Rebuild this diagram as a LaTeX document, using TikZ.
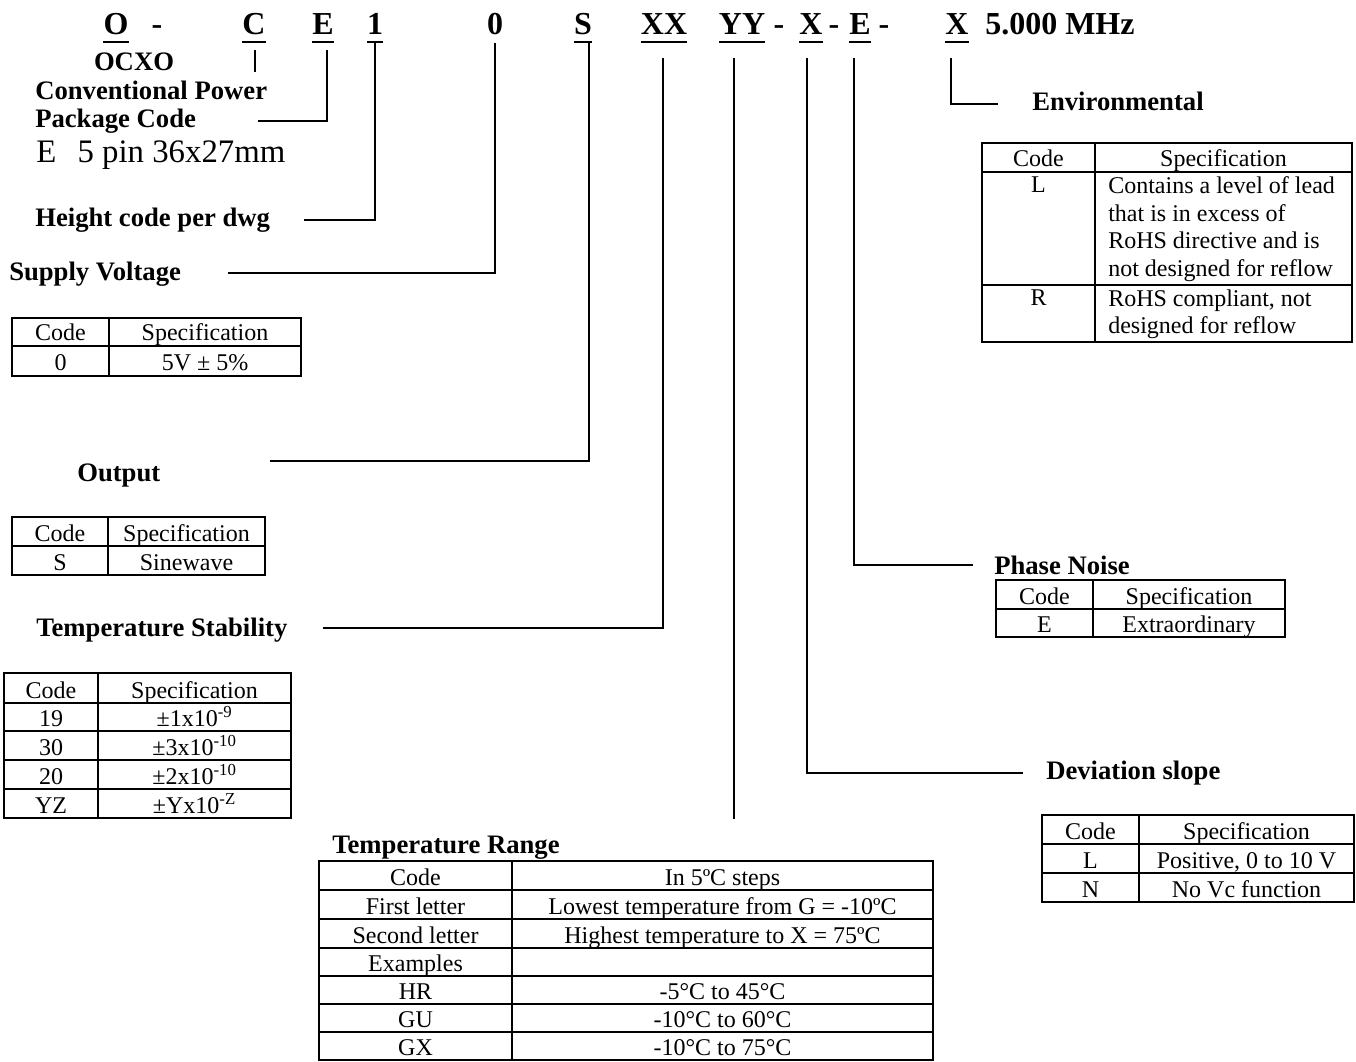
\documentclass[tikz,border=0pt]{standalone}
\usepackage{fontspec}
\setmainfont{Liberation Serif}
\usepackage{tikz}
\usetikzlibrary{calc}
\tikzset{
  pn code/.style={
    anchor=base,
    inner sep=0pt,
    font=\fontsize{24}{28}\selectfont\bfseries,
  },
  pn label/.style={
    anchor=west,
    inner sep=0pt,
    font=\fontsize{20}{24}\selectfont\bfseries,
  },
  pn cell/.style={
    anchor=base,
    inner sep=0pt,
    font=\fontsize{18}{20.6}\selectfont,
  },
  pn multi/.style={
    anchor=north west,
    inner sep=0pt,
    align=left,
    font=\fontsize{18}{20.6}\selectfont,
  },
  pn uline/.style={line width=1.5pt},
  pn line/.style={line width=1.2pt},
  pn grid/.style={line width=1.2pt},
}

\begin{document}
\begin{tikzpicture}[x=0.75pt, y=-0.75pt]
  \useasboundingbox (0,0) rectangle (1356,1062);

  \node[pn code] (cO) at (116,35) {O};
  \node[pn code] (d1) at (157,35) {-};
  \node[pn code] (cC) at (254,35) {C};
  \node[pn code] (cE) at (323,35) {E};
  \node[pn code] (c1) at (375,35) {1};
  \node[pn code] (c0) at (495,35) {0};
  \node[pn code] (cS) at (583,35) {S};
  \node[pn code] (cXX) at (664,35) {XX};
  \node[pn code] (cYY) at (742,35) {YY};
  \node[pn code] (d2) at (779,35) {-};
  \node[pn code] (cX) at (811,35) {X};
  \node[pn code] (d3) at (834,35) {-};
  \node[pn code] (cE2) at (860,35) {E};
  \node[pn code] (d4) at (884,35) {-};
  \node[pn code] (cX2) at (957,35) {X};
  \node[pn code, anchor=base west] (freq) at (985,35) {5.000 MHz};
  \foreach \c in {cO,cC,cE,c1,cS,cXX,cYY,cX,cE2,cX2}
    \draw[pn uline] ($(\c.base west)+(0,7)$) -- ($(\c.base east)+(0,7)$);

  \node[pn label, anchor=center] (locxo) at (134,62) {OCXO};
  \node[pn label] (lconv) at (35,90) {Conventional Power};
  \node[pn label] (lpkg) at (35,121) {Package Code};
  \node[anchor=west, inner sep=0pt, font=\fontsize{24.6}{28}\selectfont] (lpkgE) at (36,155) {E\hspace{16pt}5 pin 36x27mm};
  \node[pn label] (lhgt) at (35,220) {Height code per dwg};
  \node[pn label] (lsup) at (9,274) {Supply Voltage};
  \node[pn label] (lout) at (77,476) {Output};
  \node[pn label] (lstab) at (36,630) {Temperature Stability};
  \node[pn label] (lrange) at (332,848) {Temperature Range};
  \node[pn label] (ldev) at (1046,773) {Deviation slope};
  \node[pn label] (lpn) at (994,565) {Phase Noise};
  \node[pn label] (lenv) at (1032,101) {Environmental};

  \coordinate (yyend) at (734,819);
  \draw[pn line] ($(cC.base)+(1,15)$) -- ++(0,22);
  \draw[pn line] ($(cE.base)+(4,15)$) |- ($(lpkg.east)+(62,0)$);
  \draw[pn line] ($(c1.base)+(0,7)$) |- ($(lhgt.east)+(34,0)$);
  \draw[pn line] ($(c0.base)+(0,8)$) |- ($(lsup.east)+(47,-1)$);
  \draw[pn line] ($(cS.base)+(6,7)$) |- ($(lout.east)+(109,-15)$);
  \draw[pn line] ($(cXX.base)+(-1,23)$) |- ($(lstab.east)+(35,-2)$);
  \draw[pn line] ($(cYY.base)+(-8,23)$) -- (yyend);
  \draw[pn line] ($(cX.base)+(-4,23)$) |- ($(ldev.west)+(-23,0)$);
  \draw[pn line] ($(cE2.base)+(-6,23)$) |- ($(lpn.west)+(-21,0)$);
  \draw[pn line] ($(cX2.base)+(-6,23)$) |- ($(lenv.west)+(-34,3)$);

  \draw[pn grid] (12,318) rectangle (301,376);
  \draw[pn grid] (12,346) -- (301,346) (109,318) -- (109,376);
  \node[pn cell] (sv11) at (60.5,341) {Code};
  \node[pn cell] (sv12) at (205,341) {Specification};
  \node[pn cell] (sv21) at (60.5,371) {0};
  \node[pn cell] (sv22) at (205,371) {5V ± 5\%};

  \draw[pn grid] (12,517) rectangle (265,575);
  \draw[pn grid] (12,546) -- (265,546) (108,517) -- (108,575);
  \node[pn cell] (op11) at (60,541) {Code};
  \node[pn cell] (op12) at (186.5,541) {Specification};
  \node[pn cell] (op21) at (60,570) {S};
  \node[pn cell] (op22) at (186.5,570) {Sinewave};

  \draw[pn grid] (4,673) rectangle (291,818);
  \draw[pn grid] (4,703) -- (291,703) (4,731) -- (291,731) (4,760) -- (291,760)
    (4,789) -- (291,789) (98,673) -- (98,818);
  \node[pn cell] (ts11) at (51,698) {Code};
  \node[pn cell] (ts12) at (194.5,698) {Specification};
  \node[pn cell] (ts21) at (51,726) {19};
  \node[pn cell] (ts22) at (194.5,726) {±1x10\textsuperscript{-9}};
  \node[pn cell] (ts31) at (51,755) {30};
  \node[pn cell] (ts32) at (194.5,755) {±3x10\textsuperscript{-10}};
  \node[pn cell] (ts41) at (51,784) {20};
  \node[pn cell] (ts42) at (194.5,784) {±2x10\textsuperscript{-10}};
  \node[pn cell] (ts51) at (51,813) {YZ};
  \node[pn cell] (ts52) at (194.5,813) {±Yx10\textsuperscript{-Z}};

  \draw[pn grid] (319,861) rectangle (933,1060);
  \draw[pn grid] (319,890) -- (933,890) (319,919) -- (933,919) (319,948) -- (933,948)
    (319,976) -- (933,976) (319,1004) -- (933,1004) (319,1032) -- (933,1032)
    (512,861) -- (512,1060);
  \node[pn cell] (tr11) at (415.5,885) {Code};
  \node[pn cell] (tr12) at (722.5,885) {In 5ºC steps};
  \node[pn cell] (tr21) at (415.5,914) {First letter};
  \node[pn cell] (tr22) at (722.5,914) {Lowest temperature from G = -10ºC};
  \node[pn cell] (tr31) at (415.5,943) {Second letter};
  \node[pn cell] (tr32) at (722.5,943) {Highest temperature to X = 75ºC};
  \node[pn cell] (tr41) at (415.5,971) {Examples};
  \node[pn cell] (tr51) at (415.5,999) {HR};
  \node[pn cell] (tr52) at (722.5,999) {-5°C to 45°C};
  \node[pn cell] (tr61) at (415.5,1027) {GU};
  \node[pn cell] (tr62) at (722.5,1027) {-10°C to 60°C};
  \node[pn cell] (tr71) at (415.5,1055) {GX};
  \node[pn cell] (tr72) at (722.5,1055) {-10°C to 75°C};

  \draw[pn grid] (1042,815) rectangle (1354,902);
  \draw[pn grid] (1042,844) -- (1354,844) (1042,873) -- (1354,873) (1139,815) -- (1139,902);
  \node[pn cell] (dv11) at (1090.5,839) {Code};
  \node[pn cell] (dv12) at (1246.5,839) {Specification};
  \node[pn cell] (dv21) at (1090.5,868) {L};
  \node[pn cell] (dv22) at (1246.5,868) {Positive, 0 to 10 V};
  \node[pn cell] (dv31) at (1090.5,897) {N};
  \node[pn cell] (dv32) at (1246.5,897) {No Vc function};

  \draw[pn grid] (996,580) rectangle (1285,637);
  \draw[pn grid] (996,609) -- (1285,609) (1093,580) -- (1093,637);
  \node[pn cell] (ph11) at (1044.5,604) {Code};
  \node[pn cell] (ph12) at (1189,604) {Specification};
  \node[pn cell] (ph21) at (1044.5,632) {E};
  \node[pn cell] (ph22) at (1189,632) {Extraordinary};

  \draw[pn grid] (982,143) rectangle (1352,342);
  \draw[pn grid] (982,172) -- (1352,172) (982,285) -- (1352,285) (1095,143) -- (1095,342);
  \node[pn cell] (en11) at (1038.5,167) {Code};
  \node[pn cell] (en12) at (1223.5,167) {Specification};
  \node[pn cell] (en21) at (1038.5,193) {L};
  \node[pn multi] (en22) at (1108,176.5) {Contains a level of lead\\that is in excess of\\RoHS directive and is\\not designed for reflow};
  \node[pn cell] (en31) at (1038.5,306) {R};
  \node[pn multi] (en32) at (1108,289.5) {RoHS compliant, not\\designed for reflow};
\end{tikzpicture}
\end{document}
